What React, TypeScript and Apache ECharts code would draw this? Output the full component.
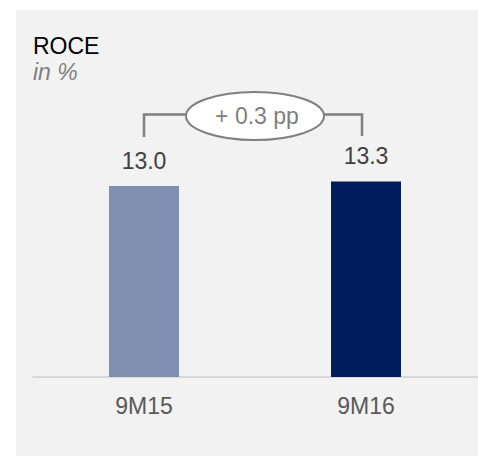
import React, { useEffect, useRef } from "react";
import * as echarts from "echarts";

const categories: string[] = ["9M15", "9M16"];
const roceValues: number[] = [13.0, 13.3];
const barColors: string[] = ["#7F8FB1", "#001E5B"];
const titleText = "ROCE";
const unitText = "in %";

const FONT = "'Liberation Sans', Arial, Helvetica, sans-serif";
const FS = 23;

export default function App() {
  const ref = useRef<HTMLDivElement>(null);

  useEffect(() => {
    if (!ref.current) return;
    const chart = echarts.init(ref.current, undefined, { renderer: "svg" });
    const baseGraphic: any[] = [
      {
        type: "rect",
        z: -10,
        silent: true,
        shape: { x: 16, y: 10, width: 462, height: 446 },
        style: { fill: "#F2F2F2" },
      },
      {
        type: "text",
        left: 33,
        top: 34,
        z: 10,
        style: { text: titleText, fontSize: FS, fontFamily: FONT, fill: "#000000" },
      },
      {
        type: "text",
        left: 33,
        top: 60,
        z: 10,
        style: {
          text: unitText,
          fontSize: FS,
          fontStyle: "italic",
          fontFamily: FONT,
          fill: "#7F7F7F",
        },
      },
    ];
    const option: any = {
      animation: false,
      backgroundColor: "#ffffff",
      grid: { left: 33, right: 1, top: 83, bottom: 79, containLabel: false },
      xAxis: {
        type: "category",
        data: categories,
        axisLine: { show: true, lineStyle: { color: "#D9D9D9", width: 2 } },
        axisTick: { show: false },
        axisLabel: {
          margin: 17,
          fontSize: FS,
          color: "#595959",
          fontFamily: FONT,
        },
      },
      yAxis: {
        type: "value",
        min: 0,
        max: 20,
        show: false,
        splitLine: { show: false },
      },
      series: [
        {
          type: "bar",
          barWidth: 70,
          z: 3,
          data: roceValues.map((v, i) => ({
            value: v,
            itemStyle: { color: barColors[i] },
          })),
          label: {
            show: true,
            position: "top",
            distance: 13.5,
            fontSize: FS,
            color: "#404040",
            fontFamily: FONT,
            formatter: (p: any) => Number(p.value).toFixed(1),
          },
        },
      ],
      graphic: baseGraphic,
    };
    chart.setOption(option);

    const p1 = chart.convertToPixel({ seriesIndex: 0 }, [0, roceValues[0]]) as number[];
    const p2 = chart.convertToPixel({ seriesIndex: 0 }, [1, roceValues[1]]) as number[];
    const midX = (p1[0] + p2[0]) / 2;
    const bracketY = 114.5;
    const leftX = p1[0];
    const rightX = p2[0] - 4;
    const delta = (roceValues[1] - roceValues[0]).toFixed(1);
    chart.setOption({
      graphic: [
        ...baseGraphic,
        {
          type: "polyline",
          z: 10,
          shape: {
            points: [
              [leftX, bracketY + 22.5],
              [leftX, bracketY],
              [rightX, bracketY],
              [rightX, bracketY + 21.5],
            ],
          },
          style: { stroke: "#808080", lineWidth: 2.5, fill: "none" },
        },
        {
          type: "ellipse",
          z: 11,
          shape: { cx: midX, cy: 116, rx: 69, ry: 24 },
          style: { fill: "#FFFFFF", stroke: "#808080", lineWidth: 2 },
        },
        {
          type: "text",
          z: 12,
          x: midX + 2,
          y: 115.5,
          style: {
            text: "+ " + delta + " pp",
            fontSize: FS,
            fontFamily: FONT,
            fill: "#7F7F7F",
            align: "center",
            verticalAlign: "middle",
          },
        },
      ],
    });

    return () => {
      chart.dispose();
    };
  }, []);

  return (
    <div
      ref={ref}
      style={{ position: "absolute", left: 0, top: 0, width: 478, height: 456 }}
    />
  );
}
